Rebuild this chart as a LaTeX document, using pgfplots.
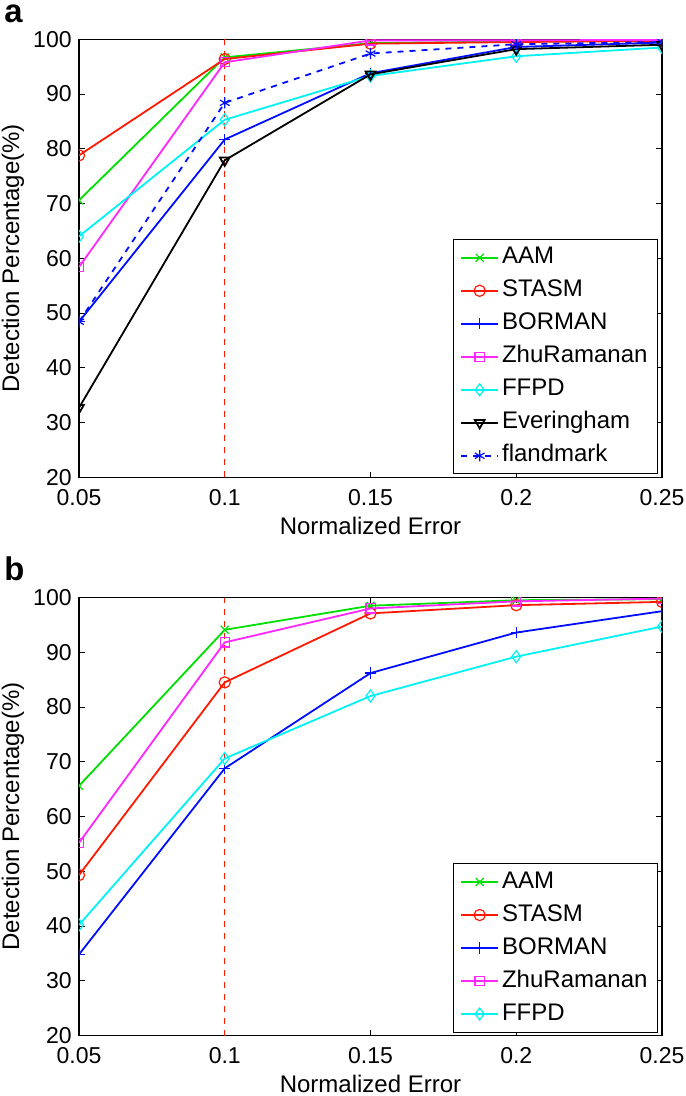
\documentclass[border=0pt]{standalone}
\usepackage{fontspec}
\setmainfont{Liberation Sans}
\usepackage{pgfplots}
\pgfplotsset{compat=1.18}

\definecolor{mgreen}{rgb}{0,0.88,0}
\definecolor{mred}{rgb}{1,0.1,0}
\definecolor{mblue}{rgb}{0,0.05,1}
\definecolor{mmag}{rgb}{1,0.15,1}
\definecolor{mcyan}{rgb}{0,0.95,0.95}

\pgfplotsset{
  mystyle/.style={
    scale only axis, width=291.5pt, height=219pt,
    xmin=0.05, xmax=0.25, ymin=20, ymax=100,
    xtick={0.05,0.1,0.15,0.2,0.25},
    xticklabels={0.05,0.1,0.15,0.2,0.25},
    ytick={20,30,...,100},
    tick align=inside, major tick length=2.8pt,
    tick style={black, line width=0.5pt},
    axis line style={black, line width=0.6pt},
    tick label style={font=\fontsize{11.5}{13}\selectfont},
    /pgf/number format/assume math mode=true,
    xticklabel style={inner sep=1pt, yshift=-5pt},
    yticklabel style={inner xsep=1pt, inner ysep=0pt, xshift=-2.5pt},
    xlabel={Normalized Error},
    ylabel={Detection Percentage(\%)},
    label style={font=\fontsize{12}{14}\selectfont, inner sep=0pt},
    xlabel style={at={(axis description cs:0.5,-0.1115)}, anchor=center},
    ylabel style={at={(axis description cs:-0.1132,0.5)}, anchor=center},
    clip marker paths=true,
    every axis plot/.append style={line width=0.9pt, mark size=2.8pt, mark options={solid, line width=0.6pt}},
    legend image code/.code={\draw[mark repeat=2,mark phase=2] plot coordinates {(0pt,0pt) (9.25pt,0pt) (18.5pt,0pt)};},
    legend cell align=left,
    legend style={at={(axis description cs:1,0)}, anchor=south east,
      xshift=-2pt, yshift=1.5pt, draw=black, line width=0.5pt,
      font=\fontsize{12}{14}\selectfont,
      inner xsep=3.5pt, inner ysep=0.75pt, row sep=0pt,
      nodes={inner xsep=1.5pt, inner ysep=2.25pt, text height=9pt, text depth=3pt}},
  },
  sAAM/.style={mgreen, mark=x},
  sSTASM/.style={mred, mark=o},
  sBORMAN/.style={mblue, mark=+},
  sZhu/.style={mmag, mark=square, mark size=2.3pt},
  sFFPD/.style={mcyan, mark=diamond, mark size=3pt},
  sEver/.style={black, mark=triangle, mark options={rotate=180}},
  sFland/.style={mblue, dashed, mark=asterisk},
}

\pgfplotstableread{
x     AAM   STASM BORMAN Zhu   FFPD  Ever  Fland
0.05  70.6  78.8  48.4   58.4  64.0  32.7  48.4
0.10  96.7  96.4  81.7   95.8  85.3  77.9  88.4
0.15  99.3  99.2  93.8   99.8  93.3  93.6  97.4
0.20  99.6  99.5  98.6   99.8  96.9  98.2  99.1
0.25  99.8  99.7  99.4   99.9  98.5  99.0  99.5
}\tabA

\pgfplotstableread{
x     AAM   STASM BORMAN Zhu   FFPD
0.05  65.6  49.3  34.8   55.2  40.2
0.10  94.1  84.5  68.8   91.8  70.6
0.15  98.5  97.1  86.2   98.0  82.0
0.20  99.5  98.6  93.6   99.3  89.2
0.25  99.7  99.2  97.5   99.8  94.7
}\tabB

\begin{document}
\begin{tikzpicture}
\begin{axis}[mystyle, name=pa, at={(0,0)}, anchor=north west]
  \addplot[mred, dashed, line width=0.6pt, mark=none, forget plot] coordinates {(0.1,20) (0.1,100)};
  \addplot[sAAM] table[x=x, y=AAM] {\tabA};
  \addplot[sSTASM] table[x=x, y=STASM] {\tabA};
  \addplot[sBORMAN] table[x=x, y=BORMAN] {\tabA};
  \addplot[sZhu] table[x=x, y=Zhu] {\tabA};
  \addplot[sFFPD] table[x=x, y=FFPD] {\tabA};
  \addplot[sEver] table[x=x, y=Ever] {\tabA};
  \addplot[sFland] table[x=x, y=Fland] {\tabA};
  \legend{AAM,STASM,BORMAN,ZhuRamanan,FFPD,Everingham,flandmark}
\end{axis}
\node[anchor=base west, inner sep=0pt, font=\fontsize{16.4}{18}\selectfont\bfseries] at (-37.5pt,8.3pt) {a};

\begin{axis}[mystyle, name=pb, at={(0,-279.1pt)}, anchor=north west]
  \addplot[mred, dashed, line width=0.6pt, mark=none, forget plot] coordinates {(0.1,20) (0.1,100)};
  \addplot[sAAM] table[x=x, y=AAM] {\tabB};
  \addplot[sSTASM] table[x=x, y=STASM] {\tabB};
  \addplot[sBORMAN] table[x=x, y=BORMAN] {\tabB};
  \addplot[sZhu] table[x=x, y=Zhu] {\tabB};
  \addplot[sFFPD] table[x=x, y=FFPD] {\tabB};
  \legend{AAM,STASM,BORMAN,ZhuRamanan,FFPD}
\end{axis}
\node[anchor=base west, inner sep=0pt, font=\fontsize{16.4}{18}\selectfont\bfseries] at (-37.5pt,-270.8pt) {b};

\pgfresetboundingbox
\path[use as bounding box] (-39.5pt,19.65pt) rectangle (303pt,-528.35pt);
\end{tikzpicture}
\end{document}
